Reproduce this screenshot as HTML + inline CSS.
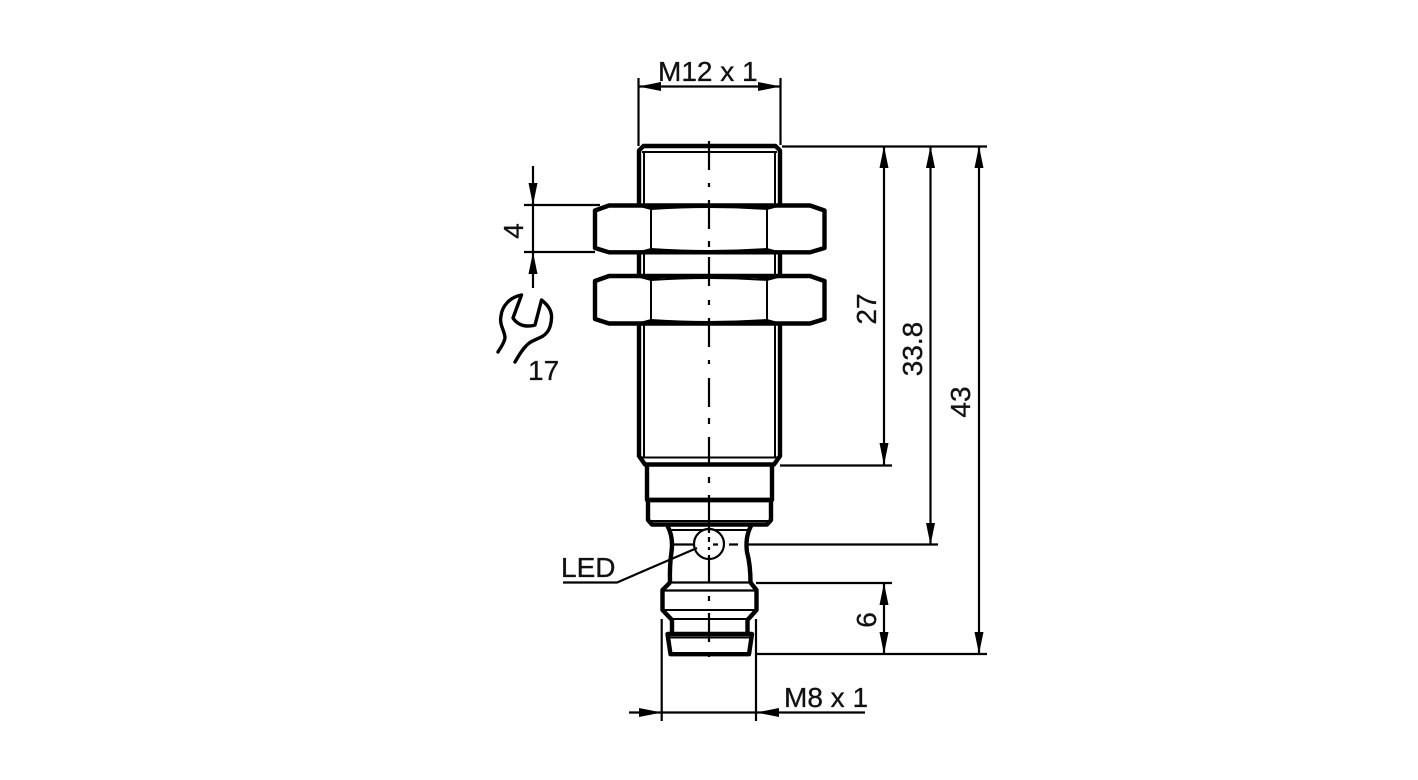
<!DOCTYPE html>
<html>
<head>
<meta charset="utf-8">
<style>
html,body{margin:0;padding:0;background:#fff;}
svg{display:block;}
text{font-family:"Liberation Sans",sans-serif;font-size:28px;fill:#111;stroke:#111;stroke-width:.3px;}
</style>
</head>
<body>
<svg width="1418" height="780" viewBox="0 0 1418 780" xmlns="http://www.w3.org/2000/svg">
<rect width="1418" height="780" fill="#fff"/>

<!-- thin details -->
<g fill="none" stroke="#000" stroke-width="2">
  <path d="M644 152V205M775 152V205M642 152H777"/>
  <path d="M644 252V276M775 252V276"/>
  <path d="M644 323V458M775 323V458M641 457.500H778"/>
  <path d="M649 521H770"/>
  <path d="M671 530H748"/>
  <path d="M664 610H756M670 619H750"/>
  <path d="M668 637.500H751"/>
  <path d="M651 208V250M767 208V250M651 279V321M767 279V321"/>
  <path d="M651 209Q709 205 767 209M651 249Q709 253 767 249M651 280Q709 276 767 280M651 320Q709 324 767 320"/>
</g>
<!-- nut corner shading -->
<g fill="#000">
  <path d="M640 207H662L651 210ZM756 207H778L767 210ZM640 251H662L651 248ZM756 251H778L767 248Z"/>
  <path d="M640 278H662L651 281ZM756 278H778L767 281ZM640 322H662L651 319ZM756 322H778L767 319Z"/>
</g>

<!-- thick outlines -->
<g fill="none" stroke="#000" stroke-width="4.4" stroke-linejoin="round">
  <!-- body -->
  <path d="M639 205V150.500L643.500 146H775.500L780 150.500V205"/>
  <path d="M639 252V276M780 252V276"/>
  <path d="M639 323V456L645 464.500H774L780 456V323"/>
  <!-- nuts -->
  <path d="M595 210.500L609 205.500H810L824.500 210.500V248L810 252.300H609L595 248Z"/>
  <path d="M595 281L609 276H810L824.500 281V319L810 323.500H609L595 319Z"/>
  <!-- collar -->
  <path d="M647 465V500H772V465"/>
  <path d="M646 500H773"/>
  <path d="M648 500V520L652 524.500H767L771 520V500"/>
  <!-- neck -->
  <path d="M667.500 526Q673.500 537 671.500 552Q669.500 565 670 582.500"/>
  <path d="M751 526Q745 537 747 552Q750.500 565 750.500 582.500"/>
  <!-- flange -->
  <path d="M670 582.500L662.500 590V610L672 620V634"/>
  <path d="M750.500 582.500L756.500 590V610L747.500 620V634"/>
  <path d="M667.500 634H752L749 654.200H670.500Z"/>
</g>
<g fill="none" stroke="#000" stroke-width="2.2">
  <path d="M669 582.500H751"/>
  <path d="M664 590.500H756"/>
</g>

<!-- centre line -->
<g stroke="#000" stroke-width="2.2" fill="none">
  <path d="M709 141V170M709 183V187M709 200V229M709 241V247M709 257V286M709 300V305M709 318V347M709 360V364M709 378V407M709 418V424M709 437V465M709 477V483M709 495V530M709 560V582M709 596V601M709 613V642M709 654V657"/>
</g>

<!-- LED circle -->
<circle cx="709" cy="544" r="15" fill="#fff" stroke="#000" stroke-width="2.2"/>
<g stroke="#000" stroke-width="2.2" fill="none">
  <path d="M709 529V533M709 537V542M709 547V550M709 555V560"/>
  <path d="M674 544.500H694M713 544.500H718M729 544.500H738M748 544.500H938"/>
  <path d="M563 582.500H617L697 548"/>
</g>

<!-- dimension lines -->
<g stroke="#000" stroke-width="2.2" fill="none">
  <path d="M638.500 78V146M780.500 78V145M639 86.500H780"/>
  <path d="M782 146.500H987"/>
  <path d="M884 147V465M930.500 147V545M979 147V654"/>
  <path d="M780 465.500H892M756 583H892M757 654H987"/>
  <path d="M884 583V654"/>
  <path d="M533 166V288M524 205H600M524 252H595"/>
  <path d="M661.700 619V721M756 619V721M629 712.500H865"/>
</g>

<!-- arrowheads -->
<g fill="#000">
  <path d="M638.500 86.500L661 82V91Z"/>
  <path d="M780.500 86.500L758 82V91Z"/>
  <path d="M884 146L879.500 168H888.500Z"/>
  <path d="M884 465L879.500 443H888.500Z"/>
  <path d="M930.500 146L926 168H935Z"/>
  <path d="M930.500 545L926 523H935Z"/>
  <path d="M979 146L974.500 168H983.500Z"/>
  <path d="M979 654L974.500 632H983.500Z"/>
  <path d="M884 583L879.500 605H888.500Z"/>
  <path d="M884 654L879.500 632H888.500Z"/>
  <path d="M533 205L528.500 183H537.500Z"/>
  <path d="M533 252L528.500 274H537.500Z"/>
  <path d="M661.700 712.500L639 708V717Z"/>
  <path d="M756 712.500L779 708V717Z"/>
</g>

<!-- wrench -->
<path d="M521.500 295C510 297 502 306 501 316C499 325 505 331 505 338C504 344 500 348 498 352M521.500 295L513 318C516 323 522 326 527 326C530 326 533 326 535 325L541.500 300C548 305 552 311 551.500 318C551 326 549 332 543 336C536 340 530 341 526 346C521 351 518 357 515 362" fill="none" stroke="#000" stroke-width="3.4" stroke-linecap="round" stroke-linejoin="round"/>

<!-- labels -->
<text x="658" y="81">M12 x 1</text>
<text x="528" y="380">17</text>
<text x="561" y="577">LED</text>
<text x="784" y="707">M8 x 1</text>
<text transform="translate(523 231) rotate(-90)" text-anchor="middle">4</text>
<text transform="translate(876 309) rotate(-90)" text-anchor="middle">27</text>
<text transform="translate(922 349) rotate(-90)" text-anchor="middle">33.8</text>
<text transform="translate(970 402) rotate(-90)" text-anchor="middle">43</text>
<text transform="translate(876 620) rotate(-90)" text-anchor="middle">6</text>
</svg>
</body>
</html>
